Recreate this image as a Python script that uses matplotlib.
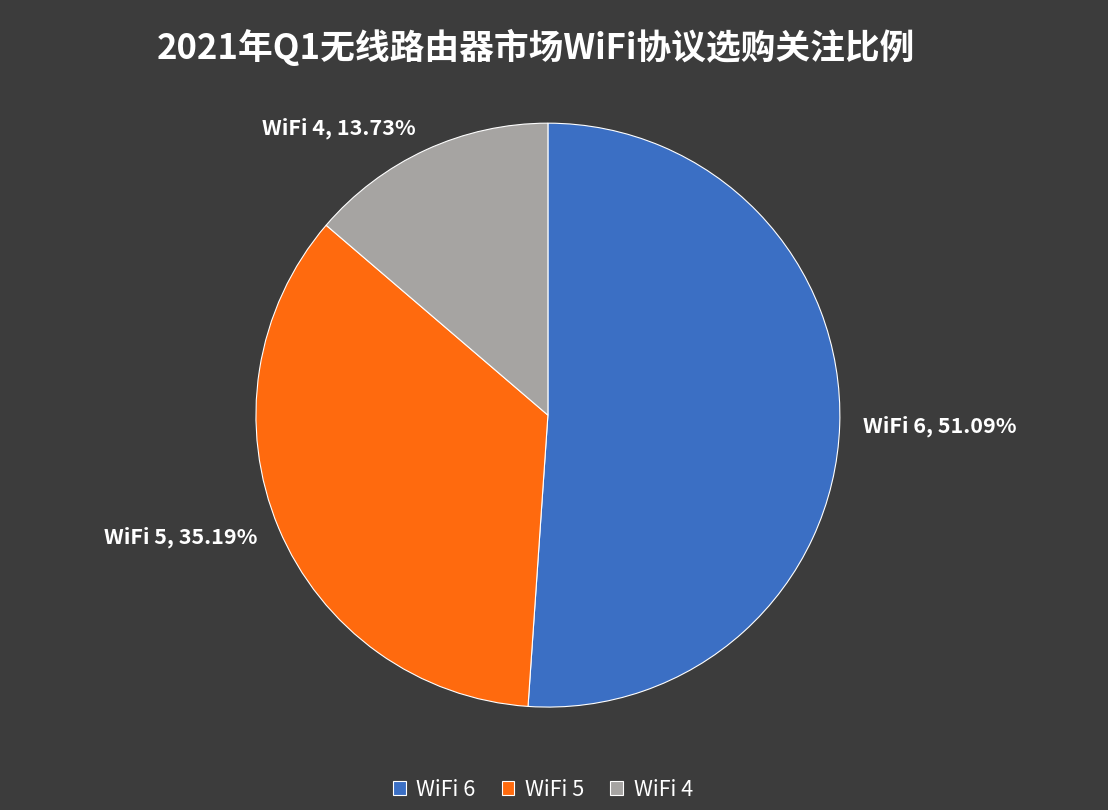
import matplotlib.pyplot as plt

plt.rcParams['font.family'] = ['Noto Sans CJK SC', 'DejaVu Sans']

names = ['WiFi 6', 'WiFi 5', 'WiFi 4']
shares = [51.09, 35.19, 13.73]
colors = ['#3b6fc4', '#ff6a0e', '#a6a4a2']
title = '2021年Q1无线路由器市场WiFi协议选购关注比例'

fig = plt.figure(figsize=(11.08, 8.10), dpi=100)
fig.patch.set_facecolor('#3c3c3c')
ax = fig.add_axes([0.231, 0.127, 0.527, 0.721])
ax.set_facecolor('#3c3c3c')

labels = [f'{n}, {v:.2f}%' for n, v in zip(names, shares)]
wedges, texts = ax.pie(shares, colors=colors, startangle=90, counterclock=False,
                       labels=labels, labeldistance=1.08,
                       wedgeprops=dict(edgecolor='white', linewidth=0.8),
                       textprops=dict(color='white', fontsize=15.5, fontweight='bold'))
ax.set_aspect('equal')
ax.set_xlim(-1, 1)
ax.set_ylim(-1, 1)

fig.text(0.484, 0.942, title, color='white', fontsize=25, fontweight='bold',
         ha='center', va='center')

leg = fig.legend(wedges, names, loc='center', bbox_to_anchor=(0.49, 0.025), ncol=3,
                 frameon=False, fontsize=15.5, handlelength=0.6, handleheight=0.6,
                 columnspacing=1.2, handletextpad=0.5)
for t in leg.get_texts():
    t.set_color('white')

fig.savefig('out.png', dpi=100, facecolor=fig.get_facecolor())
